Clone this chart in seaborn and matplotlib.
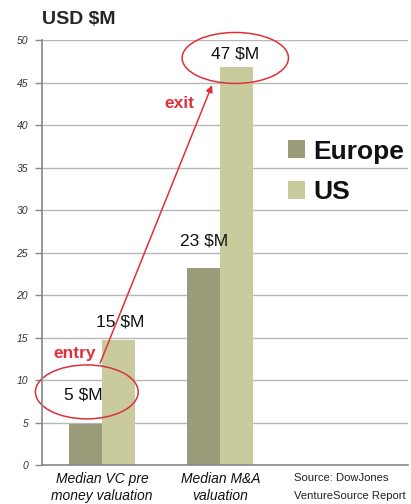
import matplotlib
matplotlib.use("Agg")
import matplotlib.pyplot as plt
import seaborn as sns
import pandas as pd
from matplotlib.patches import Ellipse, Patch

categories = ["Median VC pre\nmoney valuation", "Median M&A\nvaluation"]
regions = ["Europe", "US"]
europe = [4.8, 23.2]
us = [14.7, 46.8]
value_labels = {"Europe": ["5 $M", "23 $M"], "US": ["15 $M", "47 $M"]}
yticks = [0, 5, 10, 15, 20, 25, 30, 35, 40, 45, 50]
colors = {"Europe": "#9b9c79", "US": "#c9cb9d"}

df = pd.DataFrame({
    "category": categories * 2,
    "region": ["Europe"] * 2 + ["US"] * 2,
    "value": europe + us,
})

sns.set_theme(style="white")
plt.rcParams["font.family"] = ["Liberation Sans", "DejaVu Sans"]

fig = plt.figure(figsize=(4.11, 5.04), dpi=100)
ax = fig.add_axes([0.102, 0.0774, 0.891, 0.843])

sns.barplot(data=df, x="category", y="value", hue="region", palette=colors,
            width=0.56, order=categories, hue_order=regions, ax=ax,
            legend=False, saturation=1, edgecolor="none")

ax.set_xlim(-0.51, 2.59)
ax.set_ylim(0, 50)
ax.set_yticks(yticks)
ax.set_yticklabels([str(t) for t in yticks], fontsize=7.5, style="italic", color="#333333")
ax.yaxis.grid(True, color="#b8b8b8", linewidth=1)
ax.set_axisbelow(True)
ax.tick_params(axis="y", which="both", left=True, length=5, width=1, color="#888888", pad=5)
ax.tick_params(axis="x", bottom=False, length=0, pad=5)
ax.set_xticks([0, 1])
ax.set_xticklabels(categories, fontsize=10, style="italic", color="#111111", linespacing=1.3)
ax.set_xlabel("")
ax.set_ylabel("")
for s in ["top", "right"]:
    ax.spines[s].set_visible(False)
ax.spines["left"].set_color("#888888")
ax.spines["bottom"].set_color("#888888")
ax.spines["left"].set_linewidth(1.2)
ax.spines["bottom"].set_linewidth(1.2)

# value labels
label_pos = {"Europe": [(-0.16, 8.2), (0.86, 26.4)], "US": [(0.15, 16.8), (1.127, 48.4)]}
for r in regions:
    for (x, y), t in zip(label_pos[r], value_labels[r]):
        ax.text(x, y, t, ha="center", va="center", fontsize=12.5, color="#111111")

# ellipses
ax.add_patch(Ellipse((-0.13, 8.6), 0.87, 6.35, fill=False, edgecolor="#d9323a", linewidth=1.1, clip_on=False))
ax.add_patch(Ellipse((1.127, 47.9), 0.9, 6.0, fill=False, edgecolor="#d9323a", linewidth=1.1, clip_on=False))

# arrow
ax.annotate("", xy=(0.93, 44.7), xytext=(-0.017, 12.0),
            arrowprops=dict(arrowstyle="-|>", color="#e0303a", lw=1.1, mutation_scale=10,
                            shrinkA=0, shrinkB=0), annotation_clip=False)
ax.text(-0.23, 13.1, "entry", ha="center", va="center", fontsize=12.5, fontweight="bold", color="#e0303a")
ax.text(0.65, 42.5, "exit", ha="center", va="center", fontsize=12.5, fontweight="bold", color="#e0303a")

# legend
handles = [Patch(facecolor=colors[r], edgecolor="none") for r in regions]
leg = ax.legend(handles, regions, loc="upper left", bbox_to_anchor=(0.672, 0.766), frameon=False,
                prop={"size": 19, "weight": "bold"}, handlelength=0.65, handleheight=0.65,
                handletextpad=0.3, labelspacing=0.64, borderaxespad=0, borderpad=0)
for t in leg.get_texts():
    t.set_color("#111111")

fig.text(42 / 411, 1 - 20 / 504, "USD $M", fontsize=14, fontweight="bold", ha="left", va="center")
fig.text(294 / 411, 1 - 478 / 504, "Source: DowJones", fontsize=8.1,
         ha="left", va="center", color="#222222")
fig.text(294 / 411, 1 - 496 / 504, "VentureSource Report", fontsize=8.1,
         ha="left", va="center", color="#222222")

fig.savefig("out.png", dpi=100)
